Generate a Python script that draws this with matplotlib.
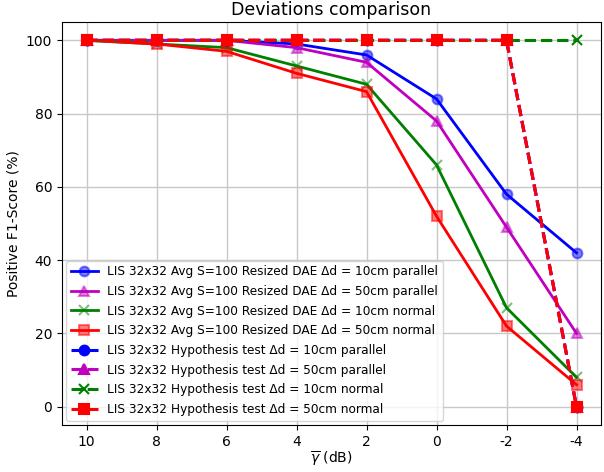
import matplotlib
matplotlib.use("Agg")
from matplotlib import pyplot as plt
from matplotlib.colors import to_rgba

snr = [10, 8, 6, 4, 2, 0, -2, -4]

dae_10_par = [100, 100, 100, 99, 96, 84, 58, 42]
dae_50_par = [100, 100, 100, 98, 94, 78, 49, 20]
dae_10_nor = [100, 99, 98, 93, 88, 66, 27, 8]
dae_50_nor = [100, 99, 97, 91, 86, 52, 22, 6]

hyp_10_par = [100, 100, 100, 100, 100, 100, 100, 0]
hyp_50_par = [100, 100, 100, 100, 100, 100, 100, 0]
hyp_10_nor = [100, 100, 100, 100, 100, 100, 100, 100]
hyp_50_nor = [100, 100, 100, 100, 100, 100, 100, 0]

labels_dae = [
    "LIS 32x32 Avg S=100 Resized DAE Δd = 10cm parallel",
    "LIS 32x32 Avg S=100 Resized DAE Δd = 50cm parallel",
    "LIS 32x32 Avg S=100 Resized DAE Δd = 10cm normal",
    "LIS 32x32 Avg S=100 Resized DAE Δd = 50cm normal",
]
labels_hyp = [
    "LIS 32x32 Hypothesis test Δd = 10cm parallel",
    "LIS 32x32 Hypothesis test Δd = 50cm parallel",
    "LIS 32x32 Hypothesis test Δd = 10cm normal",
    "LIS 32x32 Hypothesis test Δd = 50cm normal",
]

colors = ["b", "m", "g", "r"]
markers = ["o", "^", "x", "s"]

fig = plt.figure(figsize=(6.04, 4.72), dpi=100)
ax = fig.add_axes([62 / 604, 47 / 472, 539 / 604, 403 / 472])

for y, lab, c, m in zip([dae_10_par, dae_50_par, dae_10_nor, dae_50_nor], labels_dae, colors, markers):
    ax.plot(snr, y, color=c, linestyle="-", linewidth=2, marker=m, markersize=7,
            markerfacecolor=to_rgba(c, 0.5), markeredgewidth=1.5, label=lab)

for y, lab, c, m in zip([hyp_10_par, hyp_50_par, hyp_10_nor, hyp_50_nor], labels_hyp, colors, markers):
    ax.plot(snr, y, color=c, linestyle="--", linewidth=2.2, marker=m, markersize=7,
            markerfacecolor=c, markeredgewidth=1.5, label=lab)

ax.set_xlim(10.7, -4.7)
ax.set_ylim(-5, 105)
ax.set_xticks(snr)
ax.set_xticklabels([str(v) for v in snr])
ax.grid(color="#c8c8c8", linewidth=1)
ax.set_axisbelow(True)
ax.tick_params(labelsize=10)

ax.set_xlabel(r"$\overline{\gamma}$ (dB)", fontsize=10, labelpad=1)
ax.set_ylabel("Positive F1-Score (%)", fontsize=10)
ax.set_title("Deviations comparison", fontsize=12.5, pad=5)
ax.legend(loc="lower left", fontsize=8.7, labelspacing=0.55, handlelength=2.2,
          borderaxespad=0.35)

plt.savefig("out.png", dpi=100)
